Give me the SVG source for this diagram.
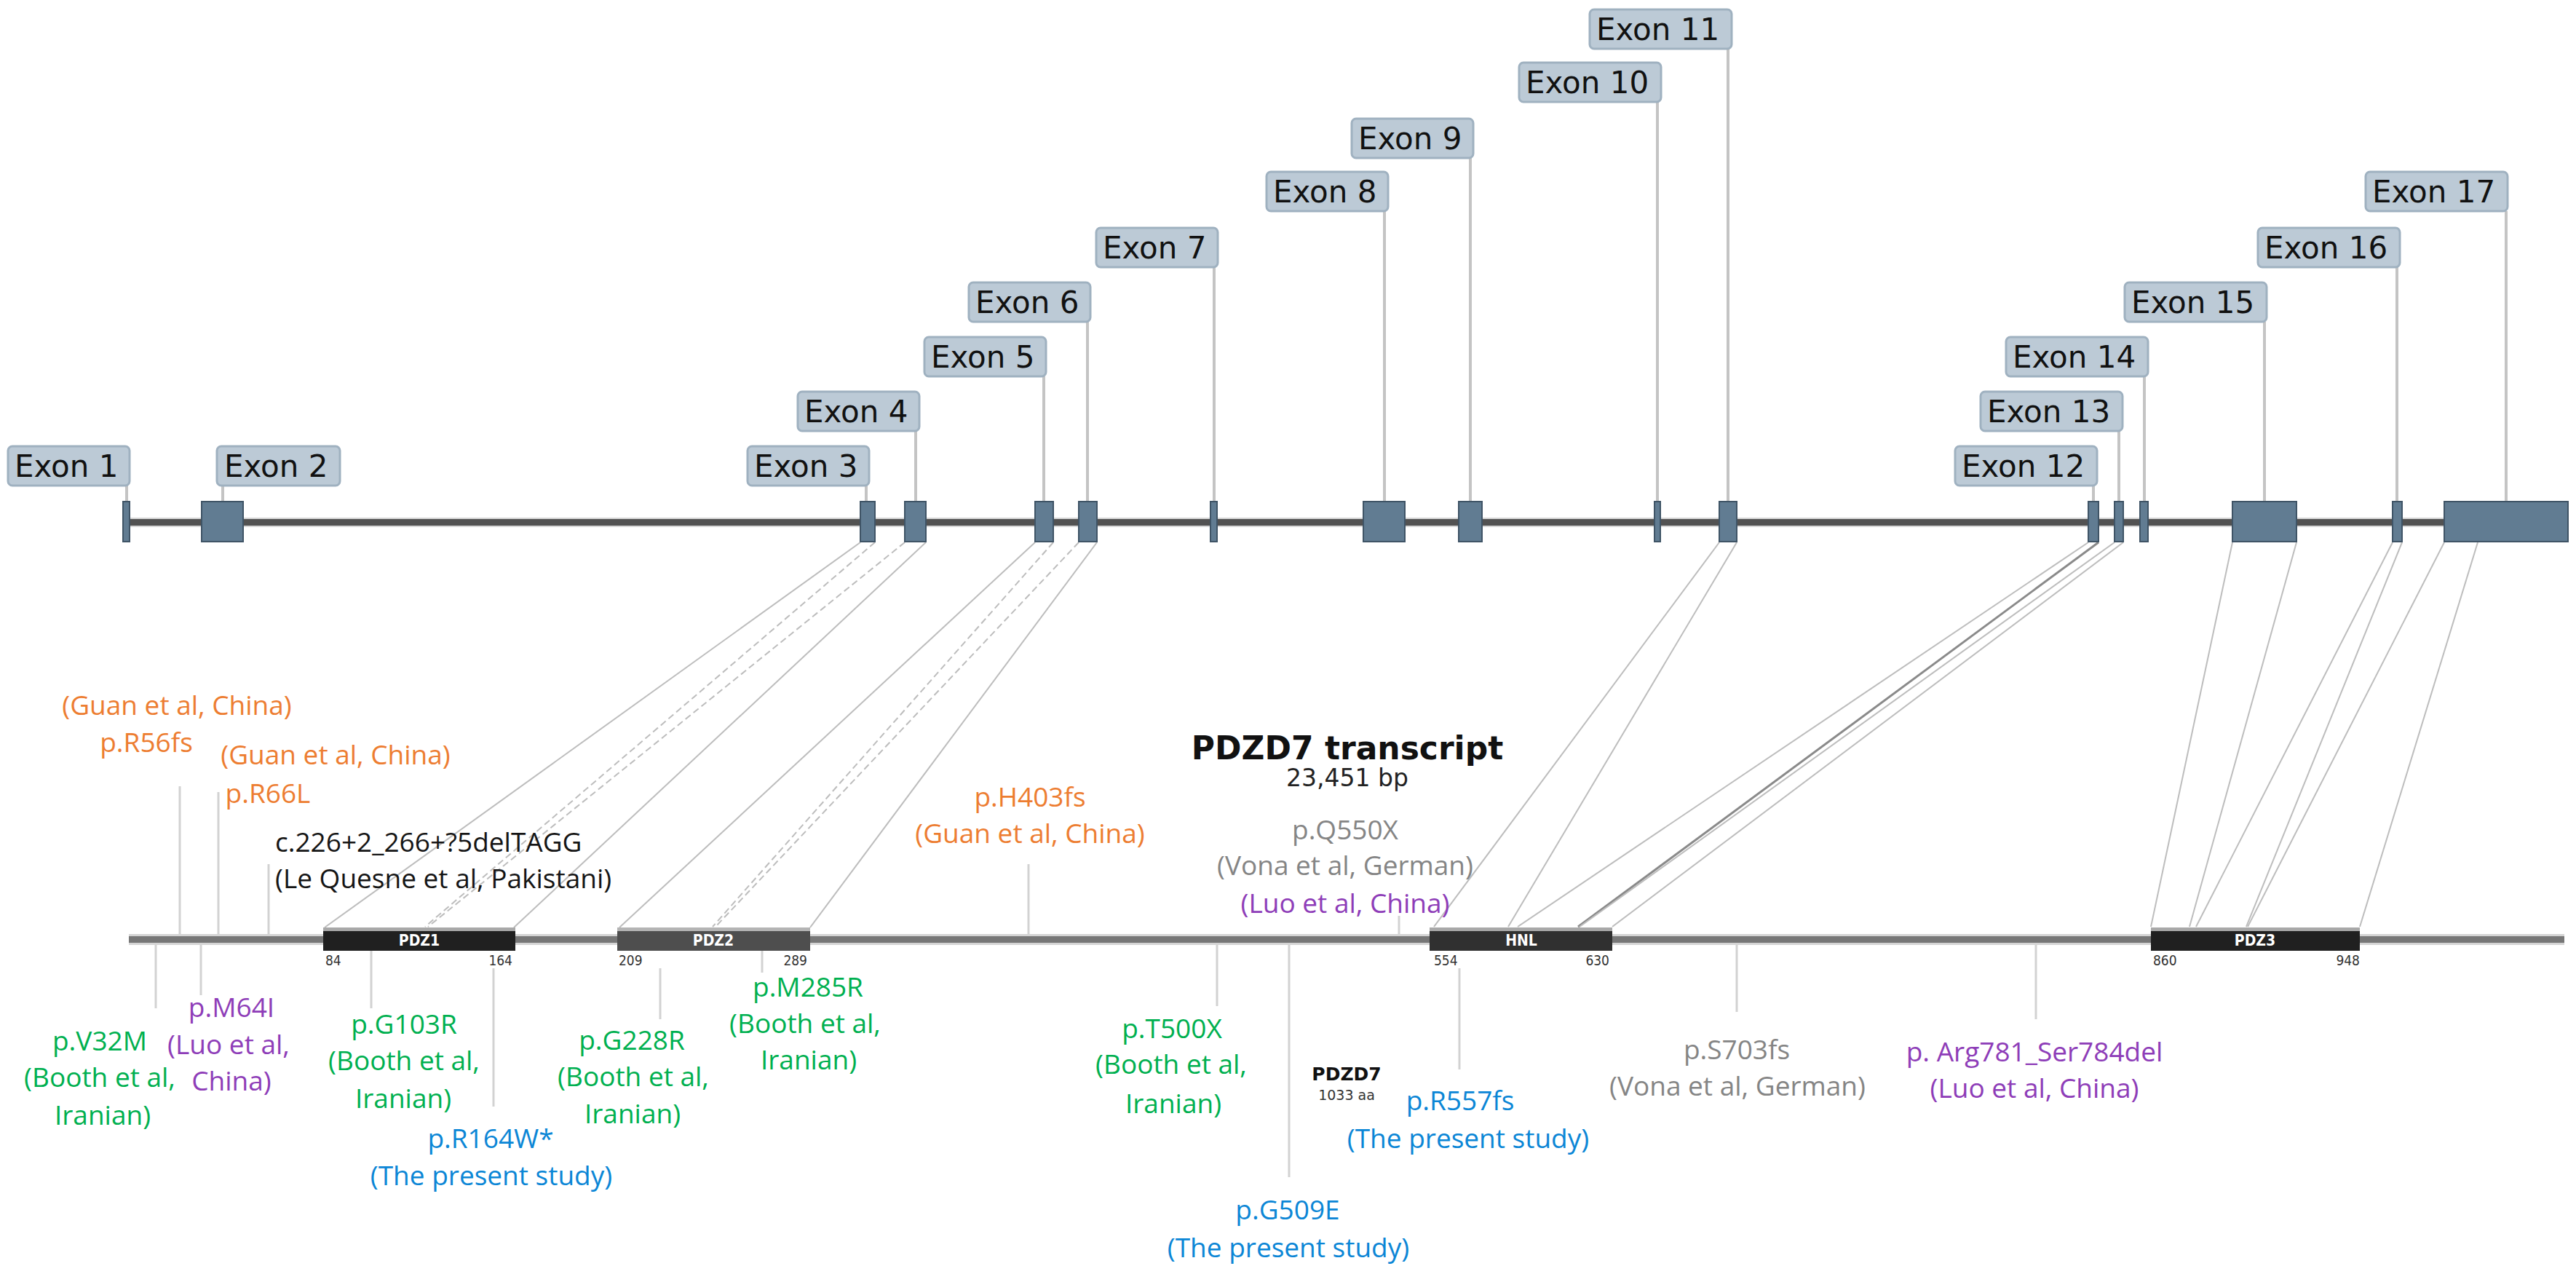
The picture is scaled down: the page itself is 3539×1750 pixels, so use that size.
<svg xmlns="http://www.w3.org/2000/svg" width="3539" height="1750" viewBox="0 0 3539 1750">
<style>
.bg{fill:#ffffff}
.elbl rect{fill:#bccad6;stroke:#9fb1c0;stroke-width:3}
.elbl text{font-family:"DejaVu Sans",Verdana,sans-serif;font-size:42px;fill:#111}
.leader{stroke:#c4c4c4;stroke-width:4}
.exon{fill:#617c92;stroke:#3f5466;stroke-width:2}
.map{stroke:#bdbdbd;stroke-width:2;fill:none}
.mapd{stroke:#bdbdbd;stroke-width:2;fill:none;stroke-dasharray:9 5}
.mapk{stroke:#8a8a8a;stroke-width:3;fill:none}
.tick{stroke:#d2d2d2;stroke-width:3}
.lab{font-family:"Open Sans","Liberation Sans",sans-serif;font-size:37px;text-anchor:middle}
.or{fill:#ED7D31}.gr{fill:#00B050}.pu{fill:#8E3DB8}.bl{fill:#0B86D6}.gy{fill:#858585}.bk{fill:#151515}
.dom text{font-family:"DejaVu Sans Condensed","DejaVu Sans",sans-serif;font-size:21px;fill:#ffffff;text-anchor:middle;font-weight:bold}
.num{font-family:"DejaVu Sans Condensed","DejaVu Sans",sans-serif;font-size:19px;fill:#333}
</style>
<rect class="bg" x="0" y="0" width="3539" height="1750"/>

<g id="gene-line">
<rect x="174" y="711" width="3354" height="13" fill="#d6d6d6"/>
<rect x="174" y="713" width="3354" height="9" fill="#525252"/>
</g>

<g id="connectors">
<g id="leaders">
<line class="leader" x1="174" y1="667" x2="174" y2="689"/>
<line class="leader" x1="306" y1="667" x2="306" y2="689"/>
<line class="leader" x1="1190" y1="667" x2="1190" y2="689"/>
<line class="leader" x1="1258" y1="592" x2="1258" y2="689"/>
<line class="leader" x1="1434" y1="517" x2="1434" y2="689"/>
<line class="leader" x1="1494" y1="442" x2="1494" y2="689"/>
<line class="leader" x1="1668" y1="367" x2="1668" y2="689"/>
<line class="leader" x1="1902" y1="290" x2="1902" y2="689"/>
<line class="leader" x1="2020" y1="217" x2="2020" y2="689"/>
<line class="leader" x1="2277" y1="140" x2="2277" y2="689"/>
<line class="leader" x1="2374" y1="67" x2="2374" y2="689"/>
<line class="leader" x1="2876" y1="667" x2="2876" y2="689"/>
<line class="leader" x1="2911" y1="592" x2="2911" y2="689"/>
<line class="leader" x1="2946" y1="517" x2="2946" y2="689"/>
<line class="leader" x1="3111" y1="442" x2="3111" y2="689"/>
<line class="leader" x1="3293" y1="367" x2="3293" y2="689"/>
<line class="leader" x1="3443" y1="290" x2="3443" y2="689"/>
</g>
<g id="mapping">
<line class="map" x1="1182" y1="745" x2="446" y2="1274"/>
<line class="mapd" x1="1202" y1="745" x2="584" y2="1273"/>
<line class="mapd" x1="1243" y1="745" x2="588" y2="1273"/>
<line class="map" x1="1272" y1="745" x2="706" y2="1274"/>
<line class="map" x1="1422" y1="745" x2="851" y2="1274"/>
<line class="mapd" x1="1447" y1="745" x2="979" y2="1273"/>
<line class="mapd" x1="1482" y1="745" x2="983" y2="1273"/>
<line class="map" x1="1507" y1="745" x2="1113" y2="1274"/>
<line class="map" x1="2362" y1="745" x2="1970" y2="1273"/>
<line class="map" x1="2386" y1="745" x2="2072" y2="1273"/>
<line class="map" x1="2869" y1="745" x2="2085" y2="1273"/>
<line class="mapk" x1="2883" y1="745" x2="2168" y2="1273"/>
<line class="map" x1="2905" y1="745" x2="2170" y2="1273"/>
<line class="map" x1="2917" y1="745" x2="2215" y2="1273"/>
<line class="map" x1="3067" y1="745" x2="2955" y2="1273"/>
<line class="map" x1="3155" y1="745" x2="3008" y2="1273"/>
<line class="map" x1="3287" y1="745" x2="3017" y2="1273"/>
<line class="map" x1="3300" y1="745" x2="3086" y2="1273"/>
<line class="map" x1="3358" y1="745" x2="3088" y2="1273"/>
<line class="map" x1="3404" y1="745" x2="3242" y2="1273"/>
</g>
<g id="ticks">
<line class="tick" x1="247" y1="1080" x2="247" y2="1286"/>
<line class="tick" x1="300" y1="1088" x2="300" y2="1286"/>
<line class="tick" x1="369" y1="1187" x2="369" y2="1286"/>
<line class="tick" x1="1413" y1="1187" x2="1413" y2="1286"/>
<line class="tick" x1="1922" y1="1258" x2="1922" y2="1286"/>
<line class="tick" x1="214" y1="1296" x2="214" y2="1385"/>
<line class="tick" x1="276" y1="1296" x2="276" y2="1367"/>
<line class="tick" x1="510" y1="1305" x2="510" y2="1385"/>
<line class="tick" x1="678" y1="1330" x2="678" y2="1520"/>
<line class="tick" x1="907" y1="1330" x2="907" y2="1400"/>
<line class="tick" x1="1047" y1="1305" x2="1047" y2="1336"/>
<line class="tick" x1="1672" y1="1296" x2="1672" y2="1382"/>
<line class="tick" x1="1771" y1="1296" x2="1771" y2="1617"/>
<line class="tick" x1="2005" y1="1330" x2="2005" y2="1469"/>
<line class="tick" x1="2386" y1="1296" x2="2386" y2="1390"/>
<line class="tick" x1="2797" y1="1296" x2="2797" y2="1400"/>
</g>
</g>

<g id="exons">
<rect id="exon1" class="exon" x="169" y="689" width="9" height="55"/>
<rect id="exon2" class="exon" x="277" y="689" width="57" height="55"/>
<rect id="exon3" class="exon" x="1182" y="689" width="20" height="55"/>
<rect id="exon4" class="exon" x="1243" y="689" width="29" height="55"/>
<rect id="exon5" class="exon" x="1422" y="689" width="25" height="55"/>
<rect id="exon6" class="exon" x="1482" y="689" width="25" height="55"/>
<rect id="exon7" class="exon" x="1663" y="689" width="9" height="55"/>
<rect id="exon8" class="exon" x="1873" y="689" width="57" height="55"/>
<rect id="exon9" class="exon" x="2004" y="689" width="32" height="55"/>
<rect id="exon10" class="exon" x="2273" y="689" width="8" height="55"/>
<rect id="exon11" class="exon" x="2362" y="689" width="24" height="55"/>
<rect id="exon12" class="exon" x="2869" y="689" width="14" height="55"/>
<rect id="exon13" class="exon" x="2905" y="689" width="12" height="55"/>
<rect id="exon14" class="exon" x="2940" y="689" width="11" height="55"/>
<rect id="exon15" class="exon" x="3067" y="689" width="88" height="55"/>
<rect id="exon16" class="exon" x="3287" y="689" width="13" height="55"/>
<rect id="exon17" class="exon" x="3358" y="689" width="170" height="55"/>
</g>

<g id="exon-labels">
<g id="lbl-exon1" class="elbl"><rect x="11" y="613" width="167" height="54" rx="6"/><text x="20" y="655">Exon 1</text></g>
<g id="lbl-exon2" class="elbl"><rect x="298" y="613" width="169" height="54" rx="6"/><text x="308" y="655">Exon 2</text></g>
<g id="lbl-exon3" class="elbl"><rect x="1027" y="613" width="167" height="54" rx="6"/><text x="1036" y="655">Exon 3</text></g>
<g id="lbl-exon4" class="elbl"><rect x="1096" y="538" width="167" height="54" rx="6"/><text x="1105" y="580">Exon 4</text></g>
<g id="lbl-exon5" class="elbl"><rect x="1270" y="463" width="167" height="54" rx="6"/><text x="1279" y="505">Exon 5</text></g>
<g id="lbl-exon6" class="elbl"><rect x="1331" y="388" width="167" height="54" rx="6"/><text x="1340" y="430">Exon 6</text></g>
<g id="lbl-exon7" class="elbl"><rect x="1506" y="313" width="167" height="54" rx="6"/><text x="1515" y="355">Exon 7</text></g>
<g id="lbl-exon8" class="elbl"><rect x="1740" y="236" width="167" height="54" rx="6"/><text x="1749" y="278">Exon 8</text></g>
<g id="lbl-exon9" class="elbl"><rect x="1857" y="163" width="167" height="54" rx="6"/><text x="1866" y="205">Exon 9</text></g>
<g id="lbl-exon10" class="elbl"><rect x="2087" y="86" width="195" height="54" rx="6"/><text x="2096" y="128">Exon 10</text></g>
<g id="lbl-exon11" class="elbl"><rect x="2184" y="13" width="195" height="54" rx="6"/><text x="2193" y="55">Exon 11</text></g>
<g id="lbl-exon12" class="elbl"><rect x="2686" y="613" width="195" height="54" rx="6"/><text x="2695" y="655">Exon 12</text></g>
<g id="lbl-exon13" class="elbl"><rect x="2721" y="538" width="195" height="54" rx="6"/><text x="2730" y="580">Exon 13</text></g>
<g id="lbl-exon14" class="elbl"><rect x="2756" y="463" width="195" height="54" rx="6"/><text x="2765" y="505">Exon 14</text></g>
<g id="lbl-exon15" class="elbl"><rect x="2919" y="388" width="195" height="54" rx="6"/><text x="2928" y="430">Exon 15</text></g>
<g id="lbl-exon16" class="elbl"><rect x="3102" y="313" width="195" height="54" rx="6"/><text x="3111" y="355">Exon 16</text></g>
<g id="lbl-exon17" class="elbl"><rect x="3250" y="236" width="195" height="54" rx="6"/><text x="3259" y="278">Exon 17</text></g>
</g>

<g id="protein-line">
<rect x="177" y="1283" width="3346" height="15" fill="#d4d4d4"/>
<rect x="177" y="1286" width="3346" height="9" fill="#777777"/>
</g>

<g id="domains" class="dom">
<g id="pdz1"><rect x="444" y="1274" width="264" height="32" fill="#202020"/><rect x="444" y="1274" width="264" height="5" fill="#a8a8a8"/><text x="576" y="1299">PDZ1</text></g>
<g id="pdz2"><rect x="848" y="1274" width="265" height="32" fill="#4e4e4e"/><rect x="848" y="1274" width="265" height="5" fill="#b4b4b4"/><text x="980" y="1299">PDZ2</text></g>
<g id="hnl"><rect x="1964" y="1274" width="251" height="32" fill="#303030"/><rect x="1964" y="1274" width="251" height="5" fill="#a8a8a8"/><text x="2090" y="1299">HNL</text></g>
<g id="pdz3"><rect x="2955" y="1274" width="287" height="32" fill="#202020"/><rect x="2955" y="1274" width="287" height="5" fill="#a8a8a8"/><text x="3098" y="1299">PDZ3</text></g>
</g>
<g id="domain-numbers" class="num">
<text x="447" y="1326">84</text>
<text x="704" y="1326" text-anchor="end">164</text>
<text x="850" y="1326">209</text>
<text x="1109" y="1326" text-anchor="end">289</text>
<text x="1970" y="1326">554</text>
<text x="2211" y="1326" text-anchor="end">630</text>
<text x="2958" y="1326">860</text>
<text x="3242" y="1326" text-anchor="end">948</text>
</g>

<g id="title">
<text x="1851" y="1043" font-family="'DejaVu Sans',Verdana,sans-serif" font-size="44" font-weight="bold" text-anchor="middle" fill="#111">PDZD7 transcript</text>
<text x="1851" y="1080" font-family="'DejaVu Sans',Verdana,sans-serif" font-size="33" text-anchor="middle" fill="#222">23,451 bp</text>
</g>
<g id="protein-title">
<text x="1850" y="1484" font-family="'DejaVu Sans',Verdana,sans-serif" font-size="25" font-weight="bold" text-anchor="middle" fill="#111">PDZD7</text>
<text x="1850" y="1511" font-family="'DejaVu Sans',Verdana,sans-serif" font-size="19" text-anchor="middle" fill="#333">1033 aa</text>
</g>

<g id="mut-R56fs" class="lab or"><text x="243" y="982">(Guan et al, China)</text><text x="201" y="1033">p.R56fs</text></g>
<g id="mut-R66L" class="lab or"><text x="461" y="1050">(Guan et al, China)</text><text x="368" y="1103">p.R66L</text></g>
<g id="mut-c226" class="lab bk"><text x="378" y="1170" text-anchor="start">c.226+2_266+?5delTAGG</text><text x="378" y="1220" text-anchor="start">(Le Quesne et al, Pakistani)</text></g>
<g id="mut-H403fs" class="lab or"><text x="1415" y="1108">p.H403fs</text><text x="1415" y="1158">(Guan et al, China)</text></g>
<g id="mut-Q550X" class="lab"><text class="gy" x="1848" y="1153">p.Q550X</text><text class="gy" x="1848" y="1202">(Vona et al, German)</text><text class="pu" x="1848" y="1254">(Luo et al, China)</text></g>

<g id="mut-V32M" class="lab gr"><text x="137" y="1443">p.V32M</text><text x="137" y="1493">(Booth et al,</text><text x="141" y="1545">Iranian)</text></g>
<g id="mut-M64I" class="lab pu"><text x="318" y="1397">p.M64I</text><text x="314" y="1448">(Luo et al,</text><text x="318" y="1498">China)</text></g>
<g id="mut-G103R" class="lab gr"><text x="555" y="1420">p.G103R</text><text x="555" y="1470">(Booth et al,</text><text x="554" y="1522">Iranian)</text></g>
<g id="mut-R164W" class="lab bl"><text x="674" y="1577">p.R164W*</text><text x="675" y="1628">(The present study)</text></g>
<g id="mut-G228R" class="lab gr"><text x="868" y="1442">p.G228R</text><text x="870" y="1492">(Booth et al,</text><text x="869" y="1543">Iranian)</text></g>
<g id="mut-M285R" class="lab gr"><text x="1110" y="1369">p.M285R</text><text x="1106" y="1419">(Booth et al,</text><text x="1111" y="1469">Iranian)</text></g>
<g id="mut-T500X" class="lab gr"><text x="1610" y="1426">p.T500X</text><text x="1609" y="1475">(Booth et al,</text><text x="1612" y="1529">Iranian)</text></g>
<g id="mut-G509E" class="lab bl"><text x="1769" y="1675">p.G509E</text><text x="1770" y="1727">(The present study)</text></g>
<g id="mut-R557fs" class="lab bl"><text x="2006" y="1525">p.R557fs</text><text x="2017" y="1577">(The present study)</text></g>
<g id="mut-S703fs" class="lab gy"><text x="2386" y="1455">p.S703fs</text><text x="2387" y="1505">(Vona et al, German)</text></g>
<g id="mut-Arg781" class="lab pu"><text x="2795" y="1458">p. Arg781_Ser784del</text><text x="2795" y="1508">(Luo et al, China)</text></g>
</svg>
